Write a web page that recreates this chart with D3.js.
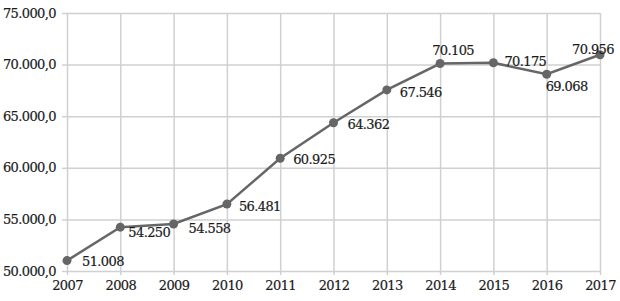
<!DOCTYPE html>
<html>
<head>
<meta charset="utf-8">
<script src="https://cdn.jsdelivr.net/npm/d3@7"></script>
<style>
  body { margin: 0; background: #fff; }
  svg { display: block; }
  svg text {
    font-family: "DejaVu Serif", serif;
    font-size: 13px;
    letter-spacing: -0.6px;
    fill: #1a1a1a;
    stroke: #1a1a1a;
    stroke-width: 0.2px;
  }
</style>
</head>
<body>
<div id="chart"></div>
<script>
// Data
const years = [2007, 2008, 2009, 2010, 2011, 2012, 2013, 2014, 2015, 2016, 2017];
const values = [51008, 54250, 54558, 56481, 60925, 64362, 67546, 70105, 70175, 69068, 70956];
const yTicks = [50000, 55000, 60000, 65000, 70000, 75000];
// label nudges from each point [dx, dy] and anchor
const labelNudge = [[15, 5.5], [8, 10], [15, 9], [12, 7], [13, 6], [14, 6], [13, 7], [13, -8.5], [11, 3], [-1, 17], [-7, -1]];
const labelAnchor = ["start", "start", "start", "start", "start", "start", "start", "middle", "start", "start", "middle"];

const width = 620, height = 301;
const margin = { top: 13, right: 20, bottom: 30, left: 67 };
const chartWidth = width - margin.left - margin.right;
const chartHeight = height - margin.top - margin.bottom;
const gridColor = "#d0d0d0";

const svg = d3.select("#chart")
    .append("svg")
    .attr("width", width)
    .attr("height", height);

const g = svg.append("g")
    .attr("transform", `translate(${margin.left},${margin.top})`);

const xScale = d3.scalePoint()
    .domain(years)
    .range([0, chartWidth]);

const yScale = d3.scaleLinear()
    .domain([50000, 75000])
    .range([chartHeight, 0]);

const fmtTick = v => d3.format(",")(v).replace(/,/g, ".") + ",0";
const fmtVal = v => d3.format(",")(v).replace(/,/g, ".");

// Grid lines
g.append("g")
    .call(d3.axisLeft(yScale).tickValues(yTicks).tickSize(-chartWidth).tickFormat(""))
    .call(a => a.select(".domain").remove())
    .selectAll("line")
    .attr("stroke", gridColor)
    .attr("stroke-width", 1.5);

g.append("g")
    .attr("transform", `translate(0,${chartHeight})`)
    .call(d3.axisBottom(xScale).tickSize(-chartHeight).tickFormat(""))
    .call(a => a.select(".domain").remove())
    .selectAll("line")
    .attr("stroke", gridColor)
    .attr("stroke-width", 1.5);

// Y axis
const yAxis = g.append("g")
    .call(d3.axisLeft(yScale).tickValues(yTicks).tickSize(5).tickPadding(6).tickFormat(fmtTick))
    .attr("font-family", null)
    .attr("font-size", null);
yAxis.select(".domain").remove();
yAxis.selectAll("line").attr("stroke", gridColor).attr("stroke-width", 1.5);

// X axis
const xAxis = g.append("g")
    .attr("transform", `translate(0,${chartHeight})`)
    .call(d3.axisBottom(xScale).tickSize(4).tickPadding(6))
    .attr("font-family", null)
    .attr("font-size", null);
xAxis.select(".domain").remove();
xAxis.selectAll("line").attr("stroke", gridColor).attr("stroke-width", 1.5);

// Line
const line = d3.line()
    .x((d, i) => xScale(years[i]))
    .y(d => yScale(d));

g.append("path")
    .datum(values)
    .attr("fill", "none")
    .attr("stroke", "#666")
    .attr("stroke-width", 2.5)
    .attr("d", line);

g.selectAll(".dot")
    .data(values)
    .enter()
    .append("circle")
    .attr("class", "dot")
    .attr("cx", (d, i) => xScale(years[i]))
    .attr("cy", d => yScale(d))
    .attr("r", 4.5)
    .attr("fill", "#666");

// Value labels
g.selectAll(".value-label")
    .data(values)
    .enter()
    .append("text")
    .attr("class", "value-label")
    .attr("x", (d, i) => xScale(years[i]) + labelNudge[i][0])
    .attr("y", (d, i) => yScale(d) + labelNudge[i][1])
    .attr("text-anchor", (d, i) => labelAnchor[i])
    .text(fmtVal);
</script>
</body>
</html>
